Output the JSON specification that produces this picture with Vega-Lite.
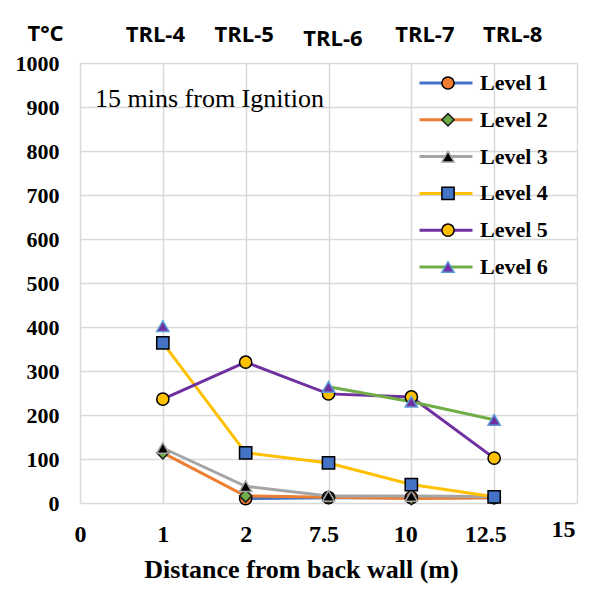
{
  "$schema": "https://vega.github.io/schema/vega-lite/v6.json",
  "width": 497,
  "height": 440,
  "autosize": {"type": "none"},
  "padding": {"left": 80, "top": 63, "right": 31, "bottom": 88},
  "background": "white",
  "config": {
    "view": {"stroke": null},
    "axisY": {
      "values": [0, 100, 200, 300, 400, 500, 600, 700, 800, 900, 1000],
      "format": "d",
      "grid": true,
      "gridColor": "#D9D9D9",
      "gridWidth": 1.5,
      "domain": false,
      "ticks": false,
      "tickSize": 0,
      "labelFont": "Liberation Serif",
      "labelFontWeight": "bold",
      "labelFontSize": 22,
      "labelColor": "black",
      "labelPadding": 21,
      "titleFont": "Open Sans",
      "titleFontWeight": "bold",
      "titleFontSize": 22,
      "titleColor": "black",
      "titleAngle": 0,
      "titleAlign": "center",
      "titleBaseline": "middle",
      "titleX": -35,
      "titleY": -30
    }
  },
  "data": {
    "values": [
      {"distance": "1", "level": "Level 1", "temp": null},
      {"distance": "2", "level": "Level 1", "temp": 10},
      {"distance": "7.5", "level": "Level 1", "temp": 12},
      {"distance": "10", "level": "Level 1", "temp": 12},
      {"distance": "12.5", "level": "Level 1", "temp": 12},
      {"distance": "1", "level": "Level 2", "temp": 114},
      {"distance": "2", "level": "Level 2", "temp": 16},
      {"distance": "7.5", "level": "Level 2", "temp": 13},
      {"distance": "10", "level": "Level 2", "temp": 10},
      {"distance": "12.5", "level": "Level 2", "temp": 12},
      {"distance": "1", "level": "Level 3", "temp": 125},
      {"distance": "2", "level": "Level 3", "temp": 38},
      {"distance": "7.5", "level": "Level 3", "temp": 16},
      {"distance": "10", "level": "Level 3", "temp": 16},
      {"distance": "12.5", "level": "Level 3", "temp": 15},
      {"distance": "1", "level": "Level 4", "temp": 364},
      {"distance": "2", "level": "Level 4", "temp": 114},
      {"distance": "7.5", "level": "Level 4", "temp": 91},
      {"distance": "10", "level": "Level 4", "temp": 42},
      {"distance": "12.5", "level": "Level 4", "temp": 14},
      {"distance": "1", "level": "Level 5", "temp": 236},
      {"distance": "2", "level": "Level 5", "temp": 320},
      {"distance": "7.5", "level": "Level 5", "temp": 248},
      {"distance": "10", "level": "Level 5", "temp": 241},
      {"distance": "12.5", "level": "Level 5", "temp": 102},
      {"distance": "1", "level": "Level 6", "temp": 402},
      {"distance": "2", "level": "Level 6", "temp": null},
      {"distance": "7.5", "level": "Level 6", "temp": 264},
      {"distance": "10", "level": "Level 6", "temp": 230},
      {"distance": "12.5", "level": "Level 6", "temp": 189}
    ]
  },
  "layer": [
    {
      "mark": {"type": "line", "strokeWidth": 3, "invalid": "break-paths-show-domains"},
      "encoding": {
        "x": {
          "field": "distance",
          "type": "ordinal",
          "sort": ["0", "1", "2", "7.5", "10", "12.5", "15"],
          "scale": {"type": "point", "domain": ["0", "1", "2", "7.5", "10", "12.5", "15"], "padding": 0},
          "axis": {
            "orient": "bottom",
            "title": "Distance from back wall (m)",
            "grid": true,
            "gridColor": "#D9D9D9",
            "gridWidth": 1.5,
            "domain": false,
            "ticks": false,
            "tickSize": 0,
            "labelAngle": 0,
            "labelFont": "Liberation Serif",
            "labelFontWeight": "bold",
            "labelFontSize": 24,
            "labelColor": "black",
            "labelPadding": {"condition": {"test": "datum.value == '15'", "value": 14}, "value": 19},
            "labelOffset": {"condition": [
              {"test": "datum.value == '7.5'", "value": -5},
              {"test": "datum.value == '10'", "value": -6},
              {"test": "datum.value == '12.5'", "value": -9},
              {"test": "datum.value == '15'", "value": -14}
            ], "value": 0},
            "titleFont": "Liberation Serif",
            "titleFontWeight": "bold",
            "titleFontSize": 26,
            "titleColor": "black",
            "titleX": 221,
            "titleY": 74,
            "titleAlign": "center",
            "titleBaseline": "alphabetic"
          }
        },
        "y": {
          "field": "temp",
          "type": "quantitative",
          "title": "T°C",
          "scale": {"domain": [0, 1000], "nice": false}
        },
        "color": {
          "field": "level",
          "type": "nominal",
          "scale": {
            "domain": ["Level 1", "Level 2", "Level 3", "Level 4", "Level 5", "Level 6"],
            "range": ["#4472C4", "#ED7D31", "#A5A5A5", "#FFC000", "#7030A0", "#70AD47"]
          },
          "legend": {
            "orient": "none",
            "legendX": 338,
            "legendY": 10,
            "title": null,
            "padding": 0,
            "symbolType": "stroke",
            "symbolSize": 2809,
            "symbolStrokeWidth": 3,
            "labelFont": "Liberation Serif",
            "labelFontWeight": "bold",
            "labelFontSize": 22,
            "labelColor": "black",
            "labelOffset": 6,
            "labelLimit": 200,
            "clipHeight": 20,
            "rowPadding": 14.8
          }
        }
      }
    },
    {
      "mark": {"type": "point", "size": 150, "strokeWidth": 1.5, "opacity": 1},
      "encoding": {
        "x": {
          "field": "distance",
          "type": "ordinal",
          "sort": ["0", "1", "2", "7.5", "10", "12.5", "15"],
          "axis": {
            "orient": "top",
            "title": null,
            "values": ["1", "2", "7.5", "10", "12.5"],
            "labelExpr": "datum.value == '1' ? 'TRL-4' : datum.value == '2' ? 'TRL-5' : datum.value == '7.5' ? 'TRL-6' : datum.value == '10' ? 'TRL-7' : 'TRL-8'",
            "grid": false,
            "domain": false,
            "ticks": false,
            "tickSize": 0,
            "labelAngle": 0,
            "labelFont": "Open Sans",
            "labelFontWeight": "bold",
            "labelFontSize": 22,
            "labelColor": "black",
            "labelPadding": {"condition": {"test": "datum.value == '7.5'", "value": 13}, "value": 17},
            "labelOffset": {"condition": [
              {"test": "datum.value == '1'", "value": -8},
              {"test": "datum.value == '2'", "value": -2},
              {"test": "datum.value == '7.5'", "value": 4},
              {"test": "datum.value == '10'", "value": 13},
              {"test": "datum.value == '12.5'", "value": 18}
            ], "value": 0}
          }
        },
        "y": {"field": "temp", "type": "quantitative", "title": "T°C"},
        "fill": {
          "field": "level",
          "type": "nominal",
          "scale": {"range": ["#ED7D31", "#70AD47", "#000000", "#4472C4", "#FFC000", "#7030A0"]},
          "legend": {
            "orient": "none", "legendX": 357, "legendY": 10, "title": null, "padding": 0,
            "symbolSize": 150, "symbolStrokeWidth": 1.5,
            "labelExpr": "''",
            "labelFont": "Liberation Serif", "labelFontWeight": "bold", "labelFontSize": 22,
            "labelOffset": 3, "labelLimit": 200, "clipHeight": 20, "rowPadding": 14.8
          }
        },
        "stroke": {
          "field": "level",
          "type": "nominal",
          "scale": {"range": ["#000000", "#1a1a1a", "#A5A5A5", "#000000", "#000000", "#5B9BD5"]},
          "legend": {
            "orient": "none", "legendX": 357, "legendY": 10, "title": null, "padding": 0,
            "symbolSize": 150, "symbolStrokeWidth": 1.5,
            "labelExpr": "''",
            "labelFont": "Liberation Serif", "labelFontWeight": "bold", "labelFontSize": 22,
            "labelOffset": 3, "labelLimit": 200, "clipHeight": 20, "rowPadding": 14.8
          }
        },
        "shape": {
          "field": "level",
          "type": "nominal",
          "scale": {"range": ["circle", "diamond", "triangle-up", "square", "circle", "triangle-up"]},
          "legend": {
            "orient": "none", "legendX": 357, "legendY": 10, "title": null, "padding": 0,
            "symbolSize": 150, "symbolStrokeWidth": 1.5,
            "labelExpr": "''",
            "labelFont": "Liberation Serif", "labelFontWeight": "bold", "labelFontSize": 22,
            "labelOffset": 3, "labelLimit": 200, "clipHeight": 20, "rowPadding": 14.8
          }
        }
      }
    },
    {
      "data": {"values": [{"note": "15 mins from Ignition"}]},
      "mark": {"type": "text", "align": "left", "baseline": "alphabetic", "font": "Liberation Serif", "fontSize": 26, "dx": 15, "color": "black"},
      "encoding": {
        "x": {"datum": "0", "type": "ordinal", "axis": null},
        "y": {"datum": 900, "type": "quantitative", "title": "T°C"},
        "text": {"field": "note", "type": "nominal"}
      }
    }
  ],
  "resolve": {"axis": {"x": "independent"}}
}
